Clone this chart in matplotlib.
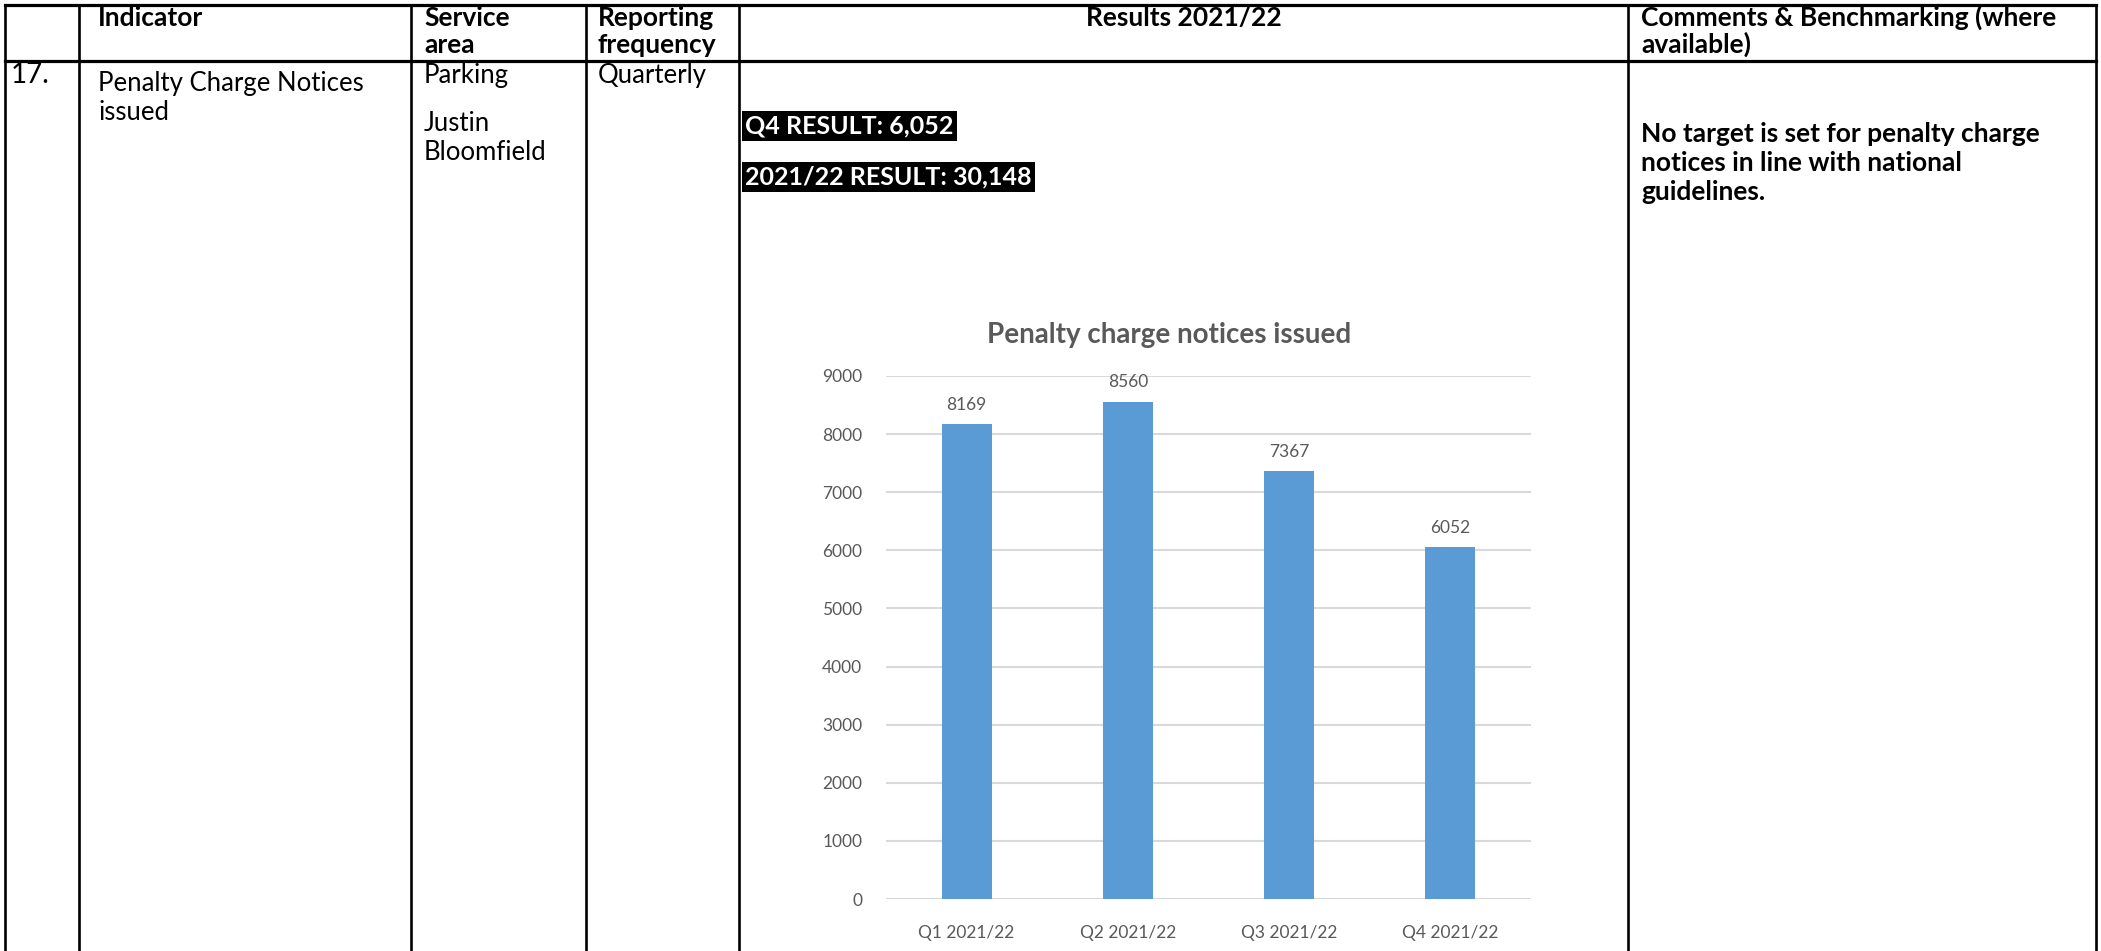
import matplotlib
matplotlib.use("Agg")
from matplotlib import pyplot as plt

plt.rcParams['font.family'] = ['Lato', 'DejaVu Sans']

# chart data
quarters = ['Q1 2021/22', 'Q2 2021/22', 'Q3 2021/22', 'Q4 2021/22']
pcn_issued = [8169, 8560, 7367, 6052]
y_ticks = [0, 1000, 2000, 3000, 4000, 5000, 6000, 7000, 8000, 9000]

# table text
headers = [['Indicator'], ['Service', 'area'], ['Reporting', 'frequency'],
           ['Results 2021/22'], ['Comments & Benchmarking (where', 'available)']]
row_no = '17.'
indicator = ['Penalty Charge Notices', 'issued']
service = ['Parking', 'Justin', 'Bloomfield']
frequency = 'Quarterly'
results = ['Q4 RESULT: 6,052', '2021/22 RESULT: 30,148']
comment = ['No target is set for penalty charge', 'notices in line with national',
           'guidelines.']

W, H = 2101, 951
fig = plt.figure(figsize=(W / 100, H / 100), dpi=100)

# table drawn in pixel coordinates
tab = fig.add_axes([0, 0, 1, 1])
tab.set_xlim(0, W)
tab.set_ylim(H, 0)
tab.axis('off')

cols = [5, 79, 411, 586, 739, 1628, 2096]
top, head_bottom = 5, 61
lw = 1.9
for x in cols:
    tab.plot([x, x], [top, H], color='black', lw=lw, solid_capstyle='butt')
tab.plot([cols[0], cols[-1]], [top, top], color='black', lw=lw + 0.4)
tab.plot([cols[0], cols[-1]], [head_bottom, head_bottom], color='black', lw=lw + 0.4)

fs = 18.5
text_x = [98, 424, 598, None, 1641]
for i, lines in enumerate(headers):
    for j, line in enumerate(lines):
        y = 26 + 27 * j
        if i == 3:
            tab.text((cols[4] + cols[5]) / 2, y, line, ha='center', va='baseline',
                     fontsize=fs + 0.5, fontweight='bold')
        else:
            tab.text(text_x[i], y, line, ha='left', va='baseline',
                     fontsize=fs + 0.5, fontweight='bold')

tab.text(11, 83, row_no, ha='left', va='baseline', fontsize=fs + 1.5)
for y, line in zip([91, 120], indicator):
    tab.text(text_x[0], y, line, ha='left', va='baseline', fontsize=fs)
for y, line in zip([83, 131, 160], service):
    tab.text(text_x[1], y, line, ha='left', va='baseline', fontsize=fs)
tab.text(text_x[2], 83, frequency, ha='left', va='baseline', fontsize=fs)

for y, r in zip([133, 184], results):
    tab.text(745, y, r, ha='left', va='baseline', fontsize=18,
             fontweight='bold', color='white',
             bbox=dict(facecolor='black', edgecolor='none', pad=2.5))

for y, line in zip([142, 171, 200], comment):
    tab.text(text_x[4], y, line, ha='left', va='baseline', fontsize=fs + 0.5,
             fontweight='bold')

# embedded bar chart
x0, x1, y0, y1 = 886, 1531, 376, 899
ax = fig.add_axes([x0 / W, (H - y1) / H, (x1 - x0) / W, (y1 - y0) / H])
ax.set_facecolor('none')
bars = ax.bar(quarters, pcn_issued, width=0.31, color='#5b9bd5', zorder=3)
ax.set_ylim(0, 9000)
ax.set_xlim(-0.5, len(quarters) - 0.5)
ax.set_yticks(y_ticks)
ax.grid(axis='y', color='#d9d9d9', lw=1.5, zorder=0)
for s in ax.spines.values():
    s.set_visible(False)
ax.tick_params(length=0, labelsize=12.5, labelcolor='#595959', pad=17)
ax.tick_params(axis='x', pad=19)
for b, v in zip(bars, pcn_issued):
    ax.annotate(str(v), (b.get_x() + b.get_width() / 2, v), xytext=(0, 8),
                textcoords='offset points', ha='center', va='bottom',
                fontsize=12.5, color='#595959', annotation_clip=False)
fig.text(1169 / W, 1 - 335 / H, 'Penalty charge notices issued', ha='center',
         va='center', fontsize=20, fontweight='bold', color='#595959')

fig.savefig('out.png', dpi=100)
